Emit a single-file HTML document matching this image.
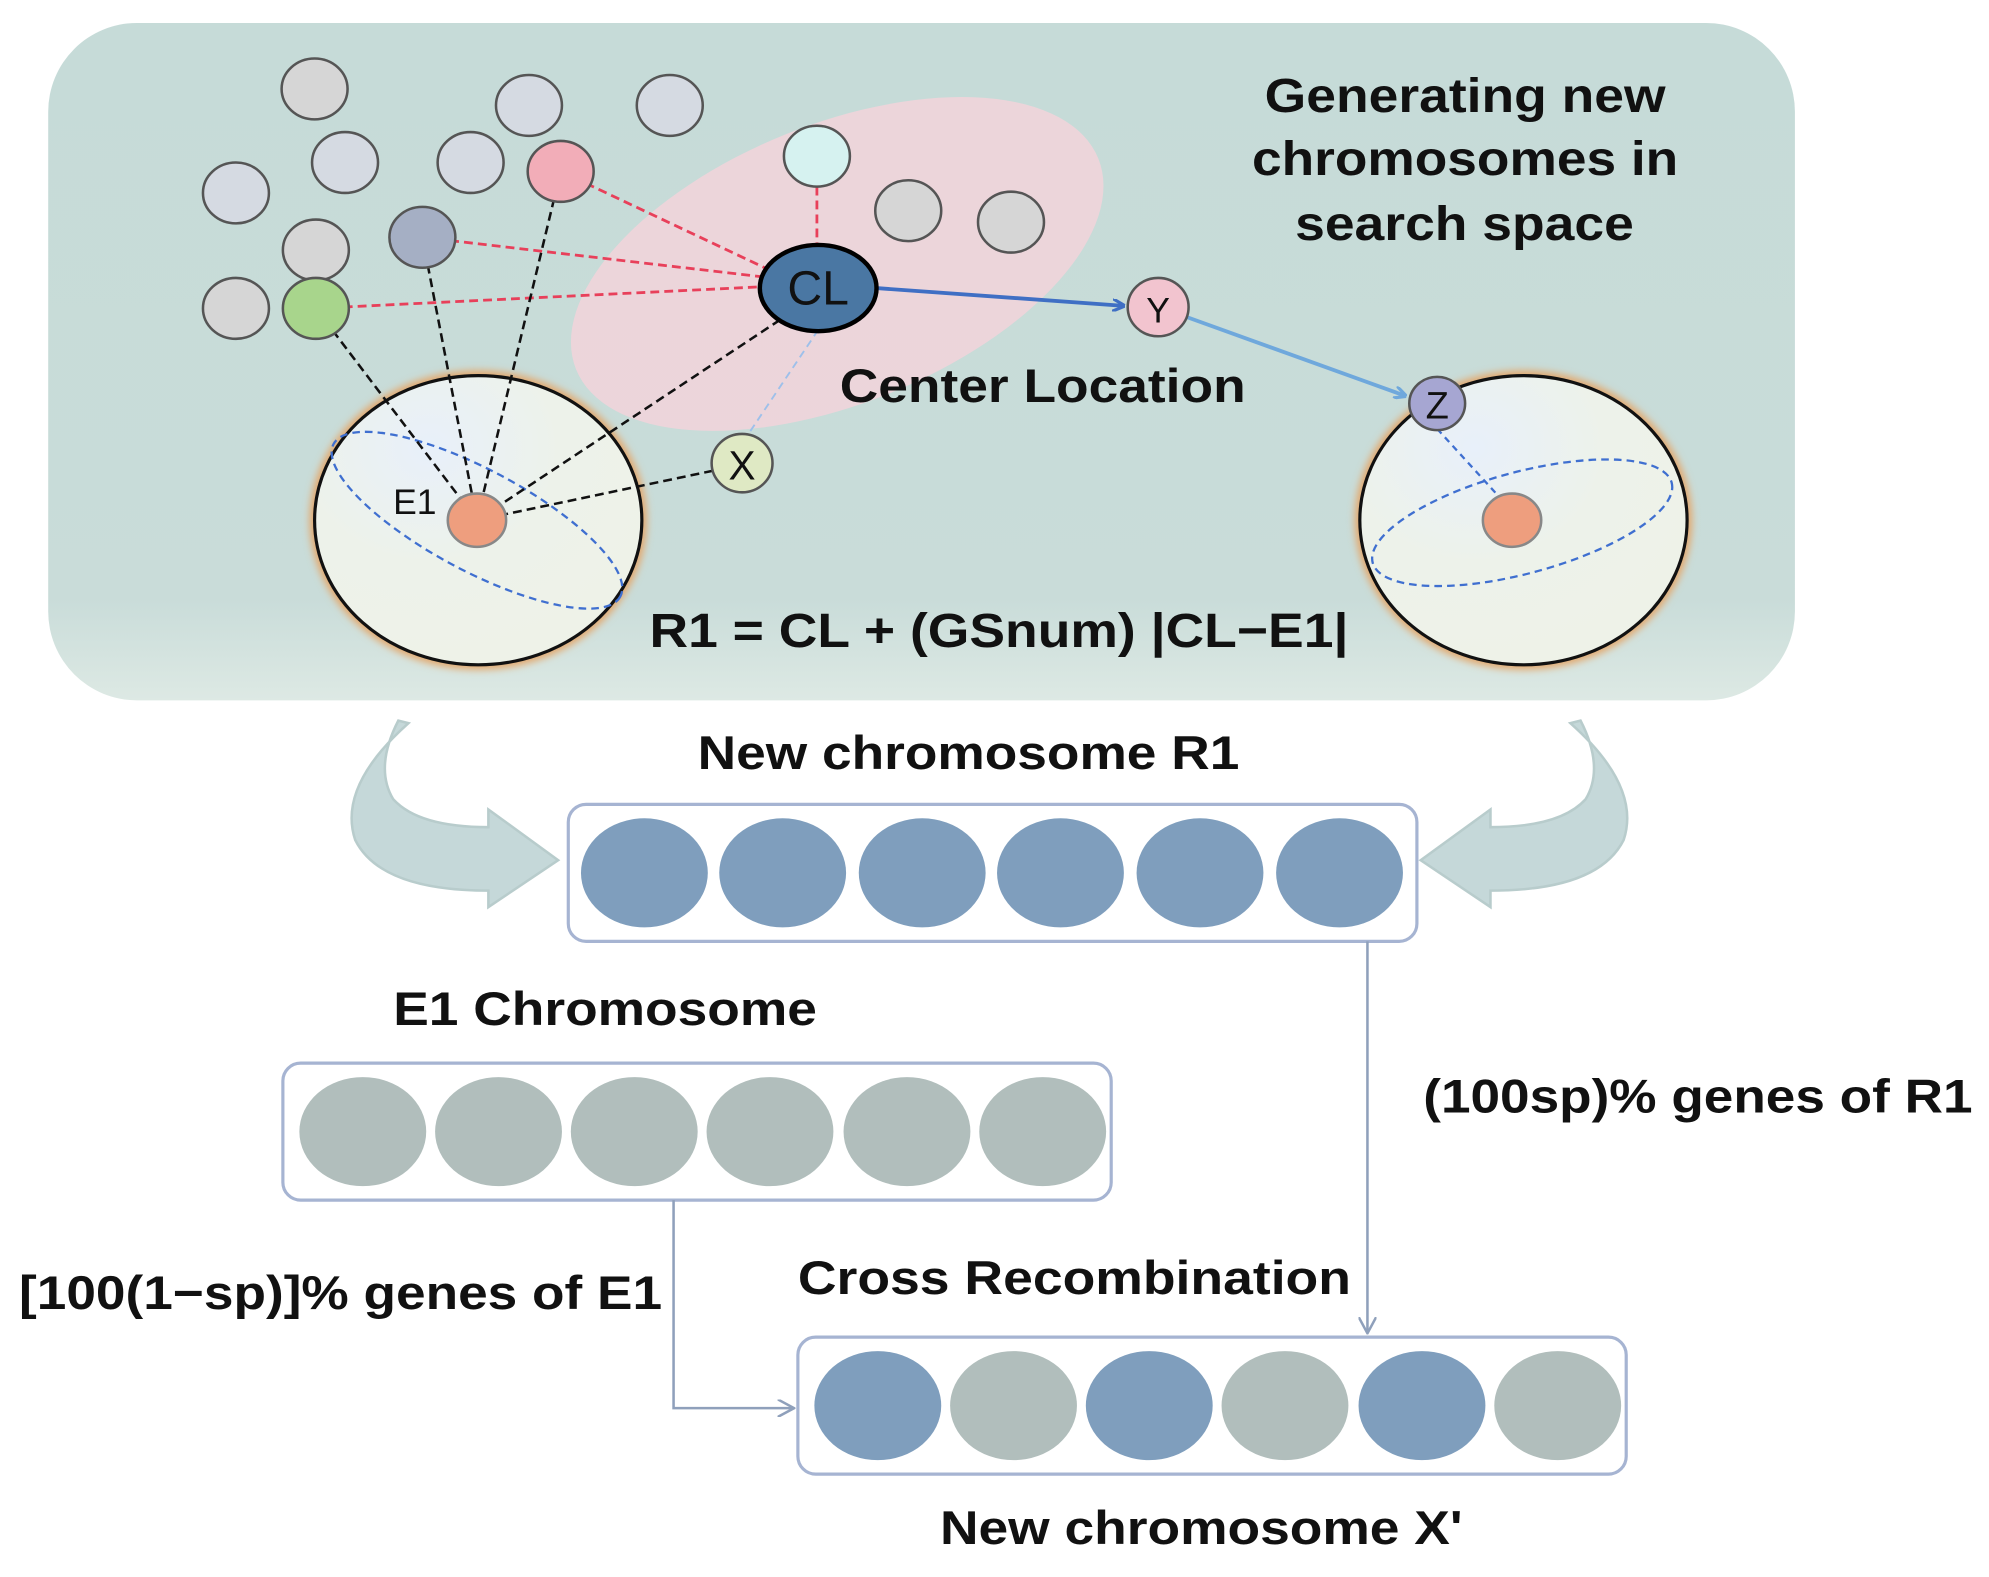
<!DOCTYPE html>
<html><head><meta charset="utf-8"><style>
html,body{margin:0;padding:0;background:#fff}
svg{display:block}
text{font-family:"Liberation Sans",Arial,sans-serif}
</style></head><body>
<svg width="1989" height="1577" viewBox="0 0 1568 1243" xmlns="http://www.w3.org/2000/svg">
<defs>
<linearGradient id="bg" x1="0" y1="0" x2="0" y2="1">
<stop offset="0" stop-color="#c6dbd8"/><stop offset="0.85" stop-color="#c9dcd9"/><stop offset="1" stop-color="#dde9e4"/></linearGradient>
<radialGradient id="sph" cx="0.35" cy="0.25" r="0.8">
<stop offset="0" stop-color="#e8f0fa"/><stop offset="0.5" stop-color="#edf2ea"/><stop offset="1" stop-color="#eef2e8"/></radialGradient>
<filter id="glow" x="-20%" y="-20%" width="140%" height="140%"><feGaussianBlur stdDeviation="3"/></filter>
<marker id="ab" markerWidth="10" markerHeight="10" refX="9" refY="5" orient="auto" markerUnits="userSpaceOnUse"><path d="M0,0 L10,5 L0,10" fill="none" stroke="#3f6fc4" stroke-width="2.5"/></marker>
<marker id="al" markerWidth="10" markerHeight="10" refX="9" refY="5" orient="auto" markerUnits="userSpaceOnUse"><path d="M0,0 L10,5 L0,10" fill="none" stroke="#6fa8dc" stroke-width="2.5"/></marker>
<marker id="ag" markerWidth="14" markerHeight="14" refX="12" refY="7" orient="auto" markerUnits="userSpaceOnUse"><path d="M0,0 L13,7 L0,14" fill="none" stroke="#8fa0bb" stroke-width="2"/></marker>
</defs>
<rect x="38" y="18" width="1377" height="534" rx="70" fill="url(#bg)"/>
<ellipse cx="660" cy="208" rx="222" ry="110" transform="rotate(-22 660 208)" fill="#f2d4da" opacity="0.85"/>
<g font-weight="bold" font-size="38" fill="#111" lengthAdjust="spacingAndGlyphs">
<text x="997" y="88" textLength="316" lengthAdjust="spacingAndGlyphs">Generating new</text>
<text x="987" y="138" textLength="336" lengthAdjust="spacingAndGlyphs">chromosomes in</text>
<text x="1021" y="189" textLength="267" lengthAdjust="spacingAndGlyphs">search space</text>
<text x="662" y="317" font-size="37" textLength="320" lengthAdjust="spacingAndGlyphs">Center Location</text>
<text x="512" y="510" textLength="551" lengthAdjust="spacingAndGlyphs">R1 = CL + (GSnum) |CL−E1|</text>
<text x="550" y="606" font-size="37" textLength="427" lengthAdjust="spacingAndGlyphs">New chromosome R1</text>
<text x="310" y="808" font-size="37" textLength="334" lengthAdjust="spacingAndGlyphs">E1 Chromosome</text>
<text x="1122" y="877" font-size="37" textLength="433" lengthAdjust="spacingAndGlyphs">(100sp)% genes of R1</text>
<text x="15" y="1032" font-size="37" textLength="507" lengthAdjust="spacingAndGlyphs">[100(1−sp)]% genes of E1</text>
<text x="629" y="1020" font-size="37" textLength="436" lengthAdjust="spacingAndGlyphs">Cross Recombination</text>
<text x="741" y="1217" font-size="37" textLength="412" lengthAdjust="spacingAndGlyphs">New chromosome X'</text>
</g>
<!-- spheres -->
<ellipse cx="377" cy="410" rx="133" ry="118" fill="#e3a86d" filter="url(#glow)"/>
<ellipse cx="377" cy="410" rx="129" ry="114" fill="url(#sph)" stroke="#111" stroke-width="2.5"/>
<ellipse cx="1201" cy="410" rx="133" ry="118" fill="#e3a86d" filter="url(#glow)"/>
<ellipse cx="1201" cy="410" rx="129" ry="114" fill="url(#sph)" stroke="#111" stroke-width="2.5"/>
<ellipse cx="376" cy="410" rx="128" ry="40" transform="rotate(28 376 410)" fill="none" stroke="#3f6fd0" stroke-width="1.8" stroke-dasharray="6,4"/>
<ellipse cx="1200" cy="412" rx="122" ry="40" transform="rotate(-15 1200 412)" fill="none" stroke="#3f6fd0" stroke-width="1.8" stroke-dasharray="6,4"/>
<!-- dashed lines -->
<g stroke="#e8405a" stroke-width="2.2" stroke-dasharray="7,4" fill="none">
<line x1="442" y1="135" x2="605" y2="212"/><line x1="333" y1="187" x2="600" y2="218"/>
<line x1="249" y1="243" x2="600" y2="226"/><line x1="644" y1="147" x2="644" y2="195"/>
</g>
<g stroke="#111" stroke-width="2" stroke-dasharray="7,4" fill="none">
<line x1="249" y1="243" x2="376" y2="410"/><line x1="333" y1="187" x2="376" y2="410"/>
<line x1="442" y1="135" x2="376" y2="410"/><line x1="615" y1="252" x2="376" y2="410"/>
<line x1="562" y1="371" x2="376" y2="410"/>
</g>
<line x1="645" y1="260" x2="590" y2="342" stroke="#9ec0ea" stroke-width="1.5" stroke-dasharray="6,4"/>
<line x1="1133" y1="338" x2="1185" y2="395" stroke="#3f6fd0" stroke-width="1.8" stroke-dasharray="5,4"/>
<line x1="691" y1="227" x2="886" y2="241" stroke="#3f6fc4" stroke-width="3" marker-end="url(#ab)"/>
<line x1="936" y1="250" x2="1108" y2="312" stroke="#6fa8dc" stroke-width="3" marker-end="url(#al)"/>
<!-- nodes -->
<g stroke="#555" stroke-width="2">
<ellipse cx="248" cy="70" rx="26" ry="24" fill="#d6d6d6"/>
<ellipse cx="417" cy="83" rx="26" ry="24" fill="#d5dae2"/>
<ellipse cx="528" cy="83" rx="26" ry="24" fill="#d5dae2"/>
<ellipse cx="186" cy="152" rx="26" ry="24" fill="#d5dae2"/>
<ellipse cx="272" cy="128" rx="26" ry="24" fill="#d5dae2"/>
<ellipse cx="371" cy="128" rx="26" ry="24" fill="#d5dae2"/>
<ellipse cx="442" cy="135" rx="26" ry="24" fill="#f2adb8"/>
<ellipse cx="644" cy="123" rx="26" ry="24" fill="#d6f2f0"/>
<ellipse cx="249" cy="197" rx="26" ry="24" fill="#d6d6d6"/>
<ellipse cx="333" cy="187" rx="26" ry="24" fill="#a5afc4"/>
<ellipse cx="186" cy="243" rx="26" ry="24" fill="#d6d6d6"/>
<ellipse cx="249" cy="243" rx="26" ry="24" fill="#a8d58c"/>
<ellipse cx="716" cy="166" rx="26" ry="24" fill="#d6d6d6"/>
<ellipse cx="797" cy="175" rx="26" ry="24" fill="#d6d6d6"/>
<ellipse cx="913" cy="242" rx="24" ry="23" fill="#f2c4cf"/>
<ellipse cx="585" cy="365" rx="24" ry="23" fill="#dfe9c4"/>
<ellipse cx="1133" cy="318" rx="22" ry="21" fill="#a6a6d2"/>
<ellipse cx="376" cy="410" rx="23" ry="21" fill="#ee9e7e" stroke="#888"/>
<ellipse cx="1192" cy="410" rx="23" ry="21" fill="#ee9e7e" stroke="#888"/>
</g>
<ellipse cx="645" cy="227" rx="46" ry="34" fill="#4a77a3" stroke="#000" stroke-width="3.5"/>
<g font-size="34" text-anchor="middle" fill="#111">
<text x="645" y="240" font-size="38">CL</text>
<text x="913" y="254" font-size="28">Y</text>
<text x="585" y="378" font-size="32">X</text>
<text x="1133" y="330" font-size="30">Z</text>
<text x="327" y="405" font-size="28">E1</text>
</g>
<!-- curved arrows -->
<path d="M322,570 Q266,620 280,662 Q300,702 385,702 L385,715 L440,678 L385,638 L385,652 Q330,652 310,630 Q295,605 314,568 Z" fill="#c5d8d9" stroke="#b8cccc" stroke-width="2"/>
<path d="M1238,570 Q1294,620 1280,662 Q1260,702 1175,702 L1175,715 L1120,678 L1175,638 L1175,652 Q1230,652 1250,630 Q1265,605 1246,568 Z" fill="#c5d8d9" stroke="#b8cccc" stroke-width="2"/>
<!-- boxes -->
<rect x="448" y="634" width="669" height="108" rx="14" fill="#fff" stroke="#a6b4d2" stroke-width="2.5"/>
<rect x="223" y="838" width="653" height="108" rx="14" fill="#fff" stroke="#a6b4d2" stroke-width="2.5"/>
<rect x="629" y="1054" width="653" height="108" rx="14" fill="#fff" stroke="#a6b4d2" stroke-width="2.5"/>
<g fill="#7f9ebd">
<ellipse cx="508" cy="688" rx="50" ry="43"/><ellipse cx="617" cy="688" rx="50" ry="43"/><ellipse cx="727" cy="688" rx="50" ry="43"/>
<ellipse cx="836" cy="688" rx="50" ry="43"/><ellipse cx="946" cy="688" rx="50" ry="43"/><ellipse cx="1056" cy="688" rx="50" ry="43"/>
</g>
<g fill="#b1bebc">
<ellipse cx="286" cy="892" rx="50" ry="43"/><ellipse cx="393" cy="892" rx="50" ry="43"/><ellipse cx="500" cy="892" rx="50" ry="43"/>
<ellipse cx="607" cy="892" rx="50" ry="43"/><ellipse cx="715" cy="892" rx="50" ry="43"/><ellipse cx="822" cy="892" rx="50" ry="43"/>
</g>
<ellipse cx="692" cy="1108" rx="50" ry="43" fill="#7f9ebd"/><ellipse cx="799" cy="1108" rx="50" ry="43" fill="#b1bebc"/>
<ellipse cx="906" cy="1108" rx="50" ry="43" fill="#7f9ebd"/><ellipse cx="1013" cy="1108" rx="50" ry="43" fill="#b1bebc"/>
<ellipse cx="1121" cy="1108" rx="50" ry="43" fill="#7f9ebd"/><ellipse cx="1228" cy="1108" rx="50" ry="43" fill="#b1bebc"/>
<!-- connectors -->
<polyline points="1078,742 1078,1050" fill="none" stroke="#8fa0bb" stroke-width="2" marker-end="url(#ag)"/>
<polyline points="531,946 531,1110 625,1110" fill="none" stroke="#8fa0bb" stroke-width="2" marker-end="url(#ag)"/>
</svg>
</body></html>
